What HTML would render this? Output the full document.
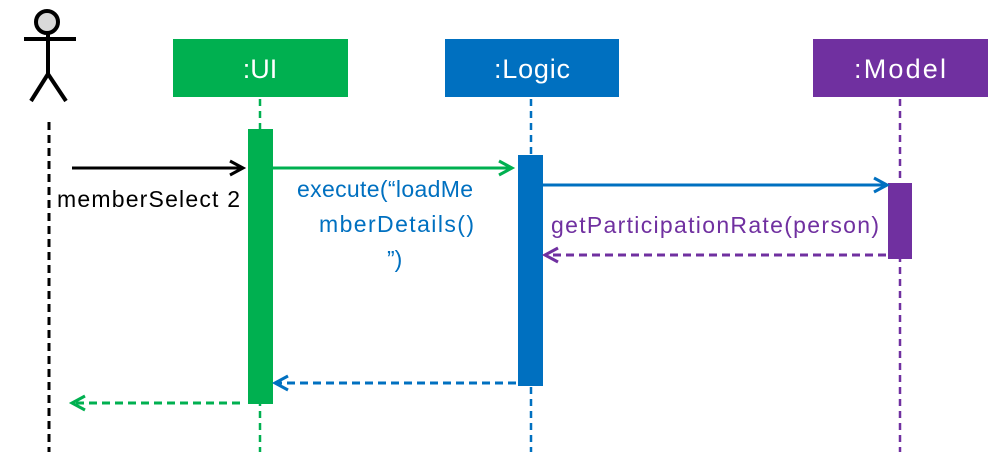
<!DOCTYPE html>
<html><head><style>
body{margin:0;background:#fff;}
svg{display:block;}
text{font-family:"Liberation Sans",sans-serif;}
</style></head><body>
<svg width="1002" height="472" viewBox="0 0 1002 472" xmlns="http://www.w3.org/2000/svg">
<!-- actor -->
<circle cx="47" cy="22" r="11" fill="#d9d9d9" stroke="#000" stroke-width="4"/>
<line x1="24" y1="39" x2="76" y2="39" stroke="#000" stroke-width="4"/>
<line x1="48" y1="33" x2="48" y2="74" stroke="#000" stroke-width="4"/>
<line x1="48" y1="74" x2="31" y2="101" stroke="#000" stroke-width="4"/>
<line x1="48" y1="74" x2="66" y2="101" stroke="#000" stroke-width="4"/>
<line x1="49" y1="122" x2="49" y2="452" stroke="#000" stroke-width="3" stroke-dasharray="8,5"/>
<!-- boxes -->
<rect x="173" y="39" width="175" height="58" fill="#00b050"/>
<text x="260" y="78" font-size="27" fill="#fff" text-anchor="middle">:UI</text>
<rect x="445" y="39" width="174" height="58" fill="#0070c0"/>
<text x="532" y="78" font-size="27" fill="#fff" text-anchor="middle" textLength="76">:Logic</text>
<rect x="813" y="39" width="175" height="58" fill="#7030a0"/>
<text x="900" y="78" font-size="27" fill="#fff" text-anchor="middle" textLength="92">:Model</text>
<!-- lifelines -->
<line x1="260" y1="99" x2="260" y2="452" stroke="#00b050" stroke-width="2.5" stroke-dasharray="7,5"/>
<line x1="531" y1="99" x2="531" y2="452" stroke="#0070c0" stroke-width="2.5" stroke-dasharray="7,5"/>
<line x1="900" y1="99" x2="900" y2="452" stroke="#7030a0" stroke-width="2.5" stroke-dasharray="7,5"/>
<!-- activations -->
<rect x="248" y="129" width="25" height="275" fill="#00b050"/>
<rect x="518" y="155" width="25" height="231" fill="#0070c0"/>
<rect x="888" y="183" width="24" height="76" fill="#7030a0"/>
<!-- arrows -->
<line x1="72" y1="168" x2="242" y2="168" stroke="#000" stroke-width="3"/>
<polyline points="230,161 243,168 230,175" fill="none" stroke="#000" stroke-width="3"/>
<line x1="273" y1="168" x2="511" y2="168" stroke="#00b050" stroke-width="3"/>
<polyline points="499,161 512,168 499,175" fill="none" stroke="#00b050" stroke-width="3"/>
<line x1="543" y1="185" x2="886" y2="185" stroke="#0070c0" stroke-width="3"/>
<polyline points="874,178 887,185 874,192" fill="none" stroke="#0070c0" stroke-width="3"/>
<line x1="886" y1="255" x2="547" y2="255" stroke="#7030a0" stroke-width="3" stroke-dasharray="8,5"/>
<polyline points="558,248 545,255 558,262" fill="none" stroke="#7030a0" stroke-width="3"/>
<line x1="516" y1="383" x2="277" y2="383" stroke="#0070c0" stroke-width="3" stroke-dasharray="8,5"/>
<polyline points="288,376 275,383 288,390" fill="none" stroke="#0070c0" stroke-width="3"/>
<line x1="240" y1="403" x2="74" y2="403" stroke="#00b050" stroke-width="3" stroke-dasharray="8,5"/>
<polyline points="85,396 72,403 85,410" fill="none" stroke="#00b050" stroke-width="3"/>
<!-- labels -->
<text x="57" y="207" font-size="23" fill="#000" textLength="183">memberSelect 2</text>
<text x="297" y="197" font-size="23" fill="#0070c0" textLength="176">execute(“loadMe</text>
<text x="319" y="232" font-size="23" fill="#0070c0" textLength="155">mberDetails()</text>
<text x="387" y="267" font-size="23" fill="#0070c0">”)</text>
<text x="551" y="233" font-size="23" fill="#7030a0" textLength="328">getParticipationRate(person)</text>
</svg>
</body></html>
